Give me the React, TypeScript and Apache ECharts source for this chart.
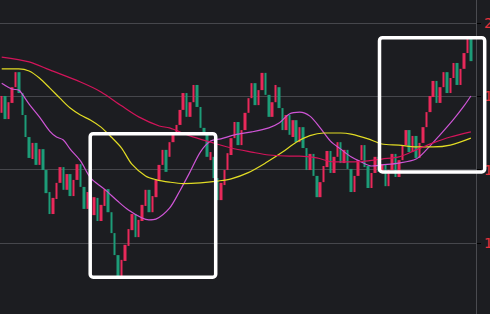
import React, { useEffect, useRef } from "react";
import * as echarts from "echarts";

// candle bodies (open / close), one per trading day
const opens = [
  17.55, 18.01, 17.38, 17.82, 18.25, 18.66, 18.09, 17.49, 16.89, 16.29,
  16.73, 16.13, 16.56, 15.99, 15.39, 14.79, 15.20, 15.64, 16.07, 15.45,
  15.88, 15.28, 15.72, 16.15, 15.53, 14.93, 15.39, 14.76, 15.23, 14.60,
  15.01, 15.47, 14.84, 14.27, 13.67, 13.07, 13.51, 13.92, 14.35, 14.79,
  14.16, 14.60, 15.01, 15.45, 14.84, 15.25, 15.72, 16.13, 16.54, 16.35,
  16.75, 17.00, 17.22, 17.63, 18.09, 17.44, 17.84, 18.31, 17.71, 17.14,
  16.95, 16.26, 16.35, 15.77, 15.17, 15.58, 15.99, 16.40, 16.86, 17.30,
  16.67, 17.08, 17.55, 17.95, 18.36, 17.76, 18.17, 18.64, 18.04, 17.44,
  17.84, 18.25, 17.68, 17.08, 17.49, 16.89, 17.35, 16.75, 17.16, 16.59,
  15.99, 16.43, 15.83, 15.25, 15.66, 16.07, 16.51, 15.91, 16.35, 16.75,
  16.18, 16.54, 16.02, 15.39, 15.83, 16.26, 16.67, 16.10, 15.50, 15.91,
  16.35, 15.94, 16.15, 15.55, 15.99, 16.43, 15.80, 16.26, 16.67, 17.08,
  16.48, 16.92, 16.32, 16.73, 17.16, 17.57, 17.98, 18.42, 17.82, 18.25,
  18.66, 18.09, 18.50, 18.91, 18.31, 18.75, 19.18, 19.56,
];
const closes = [
  18.01, 17.38, 17.84, 18.25, 18.66, 18.09, 17.49, 16.89, 16.32, 16.73,
  16.13, 16.56, 15.99, 15.36, 14.79, 15.23, 15.64, 16.07, 15.45, 15.88,
  15.28, 15.72, 16.15, 15.53, 14.93, 15.39, 14.76, 15.25, 14.60, 15.04,
  15.47, 14.84, 14.27, 13.67, 13.07, 13.54, 13.95, 14.38, 14.79, 14.16,
  14.63, 15.04, 15.45, 14.84, 15.28, 15.72, 16.13, 16.54, 15.94, 16.75,
  17.00, 17.22, 17.63, 18.09, 17.44, 17.84, 18.31, 17.71, 17.14, 16.95,
  16.35, 16.48, 15.77, 15.17, 15.64, 15.99, 16.45, 16.86, 17.30, 16.67,
  17.08, 17.55, 17.95, 18.36, 17.76, 18.17, 18.64, 18.04, 17.44, 17.84,
  18.31, 17.68, 17.08, 17.49, 16.95, 17.35, 16.75, 17.16, 16.59, 15.99,
  16.43, 15.83, 15.25, 15.66, 16.10, 16.51, 15.91, 16.35, 16.75, 16.18,
  16.54, 16.02, 15.39, 15.83, 16.26, 16.67, 16.07, 15.50, 15.91, 16.35,
  15.94, 16.15, 15.55, 15.99, 16.43, 15.80, 16.26, 16.67, 17.08, 16.48,
  16.92, 16.32, 16.73, 17.16, 17.57, 18.01, 18.42, 17.82, 18.25, 18.66,
  18.09, 18.50, 18.91, 18.31, 18.75, 19.18, 19.56, 18.96,
];

// moving averages: [day index, value]
const maFast: [number, number][] = [
  [0, 18.36], [3, 18.2], [5, 18.17], [6, 18.06], [8, 17.79], [11, 17.44],
  [14, 17.05], [16, 16.89], [18, 16.81], [20, 16.56], [23, 16.24], [26, 15.77],
  [30, 15.47], [34, 15.13], [37, 14.9], [41, 14.68], [43, 14.63], [45, 14.65],
  [49, 14.95], [52, 15.42], [55, 15.94], [58, 16.48], [61, 16.78], [64, 16.84],
  [68, 16.95], [73, 17.03], [78, 17.14], [81, 17.27], [84, 17.52], [87, 17.57],
  [90, 17.46], [93, 17.14], [96, 16.78], [99, 16.56], [102, 16.35], [105, 16.21],
  [108, 16.1], [111, 16.13], [116, 16.18], [121, 16.29], [124, 16.54],
  [128, 16.95], [132, 17.38], [135, 17.74], [137, 18.01],
];
const maMid: [number, number][] = [
  [0, 18.75], [5, 18.75], [8, 18.69], [11, 18.5], [14, 18.23], [17, 17.95],
  [20, 17.68], [23, 17.49], [26, 17.35], [29, 17.16], [32, 16.89], [35, 16.59],
  [38, 16.15], [42, 15.83], [45, 15.73], [49, 15.66], [53, 15.62], [58, 15.64],
  [63, 15.69], [67, 15.75], [72, 15.92], [77, 16.18], [82, 16.48], [86, 16.75],
  [90, 16.93], [94, 17.0], [99, 17.0], [102, 16.97], [107, 16.84], [111, 16.7],
  [116, 16.67], [121, 16.62], [126, 16.62], [131, 16.67], [137, 16.86],
];
const maSlow: [number, number][] = [
  [0, 19.07], [8, 18.94], [14, 18.72], [23, 18.39], [29, 18.12], [35, 17.74],
  [40, 17.44], [46, 17.19], [49, 17.14], [55, 16.92], [61, 16.75], [67, 16.59],
  [73, 16.48], [78, 16.4], [84, 16.37], [87, 16.37], [92, 16.32], [97, 16.21],
  [102, 16.21], [107, 16.24], [111, 16.29], [116, 16.35], [121, 16.54],
  [126, 16.73], [131, 16.89], [137, 17.03],
];

const yMin = 14;
const yMax = 20;
const yStep = 2;

const UP = "#e8295a";
const DOWN = "#1d9c78";

export default function App() {
  const ref = useRef<HTMLDivElement>(null);
  useEffect(() => {
    if (!ref.current) return;
    const chart = echarts.init(ref.current, null, { renderer: "svg" });
    const categories = opens.map((_, i) => String(i + 1)).concat([""]);
    const candles = opens.map((o, i) => {
      const c = closes[i];
      return [o, c, Math.min(o, c), Math.max(o, c)];
    });
    const lineSeries = (data: [number, number][], color: string) => ({
      type: "line",
      data,
      smooth: 0.3,
      symbol: "none",
      clip: false,
      silent: true,
      lineStyle: { color, width: 1.2 },
      z: 3,
    });
    chart.setOption({
      animation: false,
      backgroundColor: "#1c1d21",
      grid: {
        left: 0,
        right: 14,
        top: 23,
        bottom: 71,
        containLabel: false,
        outerBoundsMode: "none",
      },
      xAxis: {
        type: "category",
        data: categories,
        boundaryGap: true,
        show: false,
      },
      yAxis: {
        type: "value",
        position: "right",
        min: yMin,
        max: yMax,
        interval: yStep,
        axisLine: { show: false },
        axisTick: { show: true, length: 5, lineStyle: { color: "#000" } },
        axisLabel: {
          color: "#e5323c",
          fontSize: 14,
          margin: 8,
          fontFamily: "DejaVu Sans, sans-serif",
        },
        splitLine: { show: true, lineStyle: { color: "#46474c", width: 1 } },
      },
      series: [
        {
          type: "candlestick",
          data: candles,
          barWidth: 3,
          clip: false,
          silent: true,
          itemStyle: {
            color: UP,
            color0: DOWN,
            borderColor: UP,
            borderColor0: DOWN,
            borderWidth: 0,
          },
          z: 2,
        },
        lineSeries(maFast, "#cf55d6"),
        lineSeries(maMid, "#e2dc24"),
        lineSeries(maSlow, "#d3145a"),
      ],
      graphic: [
        {
          type: "line",
          shape: { x1: 476.5, y1: 0, x2: 476.5, y2: 314 },
          style: { stroke: "#4a4b50", lineWidth: 1 },
          z: 1,
        },
        {
          type: "rect",
          shape: { x: 90.2, y: 133.7, width: 125.5, height: 143.5, r: 3 },
          style: { fill: "none", stroke: "#ffffff", lineWidth: 3.5 },
          z: 100,
        },
        {
          type: "rect",
          shape: { x: 379.5, y: 37.7, width: 105.2, height: 134.3, r: 3 },
          style: { fill: "none", stroke: "#ffffff", lineWidth: 3.5 },
          z: 100,
        },
      ],
    });
    return () => chart.dispose();
  }, []);
  return (
    <div
      ref={ref}
      style={{ position: "fixed", left: 0, top: 0, width: 490, height: 314 }}
    />
  );
}
